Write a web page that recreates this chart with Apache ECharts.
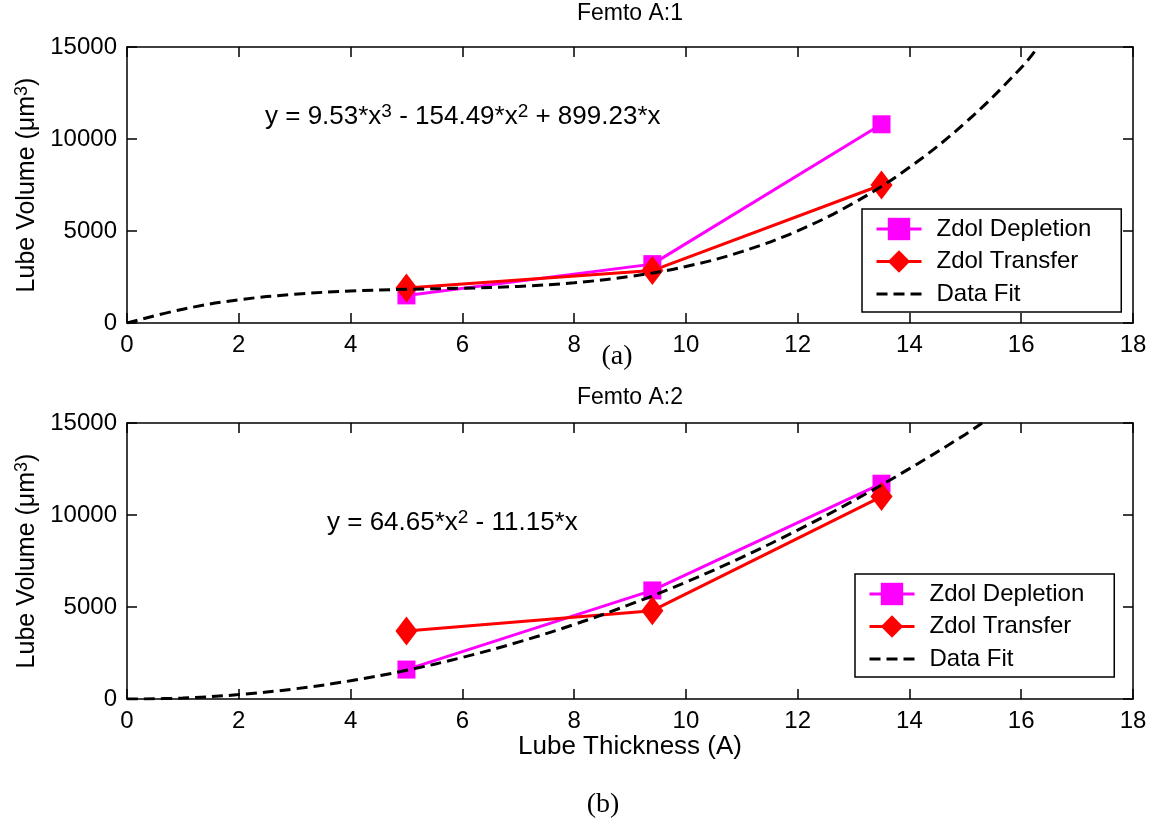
<!DOCTYPE html>
<html>
<head>
<meta charset="utf-8">
<script src="https://cdn.jsdelivr.net/npm/echarts@6/dist/echarts.min.js"></script>
<style>
  html, body { margin: 0; padding: 0; background: #fff; }
  #chart { width: 1154px; height: 824px; }
</style>
</head>
<body>
<div id="chart"></div>
<script>
// sample points (thickness A)
let thickness = [5, 9.4, 13.5];
// plot (a) Femto A:1
let depletionA = [1500, 3200, 10800];
let transferA = [1900, 2850, 7500];
// fitted curve (a)
let fitXA = [0, 1, 2, 3, 4, 5, 6, 7, 8, 9, 10, 11, 12, 13, 14, 15, 16, 16.3];
let fitYA = [0, 750, 1260, 1560, 1740, 1830, 1890, 1990, 2190, 2530, 3070, 3880, 5010, 6520, 8460, 10890, 13870, 15000];
// plot (b) Femto A:2
let depletionB = [1600, 5900, 11700];
let transferB = [3700, 4800, 11000];
let fitXB = [0, 1, 2, 3, 4, 5, 6, 7, 8, 9, 10, 11, 12, 13, 14, 15, 15.3];
let fitYB = [0, 50, 240, 550, 990, 1560, 2260, 3090, 4050, 5140, 6350, 7700, 9180, 10780, 12520, 14380, 15000];

let seriesNames = ['Zdol Depletion', 'Zdol Transfer', 'Data Fit'];
let titles = ['Femto A:1', 'Femto A:2'];
let equations = [
  'y = 9.53*x{sup|3} - 154.49*x{sup|2} + 899.23*x',
  'y = 64.65*x{sup|2} - 11.15*x'
];

const FONT = '"Liberation Sans", Arial, sans-serif';
const SERIF = '"Liberation Serif", "Times New Roman", serif';

function pairs (xs, ys) {
  return xs.map((x, i) => [x, ys[i]]);
}

let gridTops = [47, 423];
let grids = [];
let xAxis = [];
let yAxis = [];
let series = [];
let legends = [];

let boxLine = { onZero: false, lineStyle: { color: '#000', width: 1.5 } };
let boxTick = { inside: true, length: 10, lineStyle: { color: '#000', width: 1.5 } };

gridTops.forEach((top, g) => {
  grids.push({ left: 127, top: top, width: 1006, height: 276, outerBoundsMode: 'none', containLabel: false });
  // bottom / left axes with labels
  xAxis.push({
    type: 'value', gridIndex: g, min: 0, max: 18, interval: 2, position: 'bottom',
    name: g === 1 ? 'Lube Thickness (A)' : '',
    nameLocation: 'middle', nameGap: 32,
    nameTextStyle: { fontFamily: FONT, fontSize: 26, color: '#000' },
    axisLine: boxLine, axisTick: boxTick,
    axisLabel: { fontFamily: FONT, fontSize: 24, color: '#000', margin: 10 },
    splitLine: { show: false }
  });
  yAxis.push({
    type: 'value', gridIndex: g, min: 0, max: 15000, interval: 5000, position: 'left',
    name: 'Lube Volume (μm{sup|3})', nameLocation: 'middle', nameGap: 76, nameRotate: 90,
    nameTextStyle: {
      fontFamily: FONT, fontSize: 25, color: '#000',
      rich: { sup: { fontFamily: FONT, fontSize: 18, color: '#000', verticalAlign: 'top', padding: [0, 0, 10, 0] } }
    },
    axisLine: boxLine, axisTick: boxTick,
    axisLabel: { fontFamily: FONT, fontSize: 24, color: '#000', margin: 10, formatter: v => String(v) },
    splitLine: { show: false }
  });
  // top / right box edges with ticks
  xAxis.push({
    type: 'value', gridIndex: g, min: 0, max: 18, interval: 2, position: 'top',
    axisLine: boxLine, axisTick: boxTick,
    axisLabel: { show: false },
    splitLine: { show: false }
  });
  yAxis.push({
    type: 'value', gridIndex: g, min: 0, max: 15000, interval: 5000, position: 'right',
    axisLine: boxLine, axisTick: boxTick,
    axisLabel: { show: false },
    splitLine: { show: false }
  });

  let dep = g === 0 ? depletionA : depletionB;
  let tra = g === 0 ? transferA : transferB;
  let fit = g === 0 ? pairs(fitXA, fitYA) : pairs(fitXB, fitYB);
  let xi = g * 2, yi = g * 2;

  series.push({
    name: seriesNames[2], type: 'line', xAxisIndex: xi, yAxisIndex: yi,
    data: fit, symbol: 'none', smooth: 0.4, z: 3,
    color: '#000',
    lineStyle: { color: '#000', width: 3, type: [11, 6] }
  });
  series.push({
    name: seriesNames[0], type: 'line', xAxisIndex: xi, yAxisIndex: yi,
    data: pairs(thickness, dep), symbol: 'rect', symbolSize: 18, z: 2,
    color: '#ff00ff',
    lineStyle: { color: '#ff00ff', width: 3 },
    itemStyle: { color: '#ff00ff' }
  });
  series.push({
    name: seriesNames[1], type: 'line', xAxisIndex: xi, yAxisIndex: yi,
    data: pairs(thickness, tra), symbol: 'diamond', symbolSize: [22, 29], z: 2,
    color: '#ff0000',
    lineStyle: { color: '#ff0000', width: 3 },
    itemStyle: { color: '#ff0000' }
  });

  legends.push({
    data: [
      { name: seriesNames[0] },
      { name: seriesNames[1] },
      { name: seriesNames[2], itemStyle: { opacity: 0 } }
    ],
    orient: 'vertical',
    left: g === 0 ? 862 : 855, top: g === 0 ? 209 : 574,
    padding: [8, 30, 6, 13], itemGap: 8.5, itemWidth: 45, itemHeight: 28,
    backgroundColor: '#fff', borderColor: '#000', borderWidth: 1.5,
    selectedMode: false,
    lineStyle: { width: 3 },
    textStyle: { fontFamily: FONT, fontSize: 24, color: '#000', padding: [0, 0, 0, 10] }
  });
});

let supStyle = { fontSize: 19, fontFamily: FONT, fill: '#000', verticalAlign: 'top', padding: [0, 0, 10, 0] };
let graphic = [
  { type: 'text', x: 630, y: 14, style: { text: titles[0], font: '23px ' + FONT, fill: '#000', align: 'center', verticalAlign: 'middle' } },
  { type: 'text', x: 630, y: 398, style: { text: titles[1], font: '23px ' + FONT, fill: '#000', align: 'center', verticalAlign: 'middle' } },
  { type: 'text', x: 617, y: 357, style: { text: '(a)', font: '28px ' + SERIF, fill: '#000', align: 'center', verticalAlign: 'middle' } },
  { type: 'text', x: 603, y: 805, style: { text: '(b)', font: '28px ' + SERIF, fill: '#000', align: 'center', verticalAlign: 'middle' } },
  { type: 'text', x: 265, y: 102, style: { text: equations[0], font: '26px ' + FONT, fill: '#000', rich: { sup: supStyle } } },
  { type: 'text', x: 327, y: 508, style: { text: equations[1], font: '26px ' + FONT, fill: '#000', rich: { sup: supStyle } } }
];

let chart = echarts.init(document.getElementById('chart'));
chart.setOption({
  animation: false,
  backgroundColor: '#fff',
  grid: grids,
  xAxis: xAxis,
  yAxis: yAxis,
  legend: legends,
  series: series,
  graphic: graphic
});
</script>
</body>
</html>
